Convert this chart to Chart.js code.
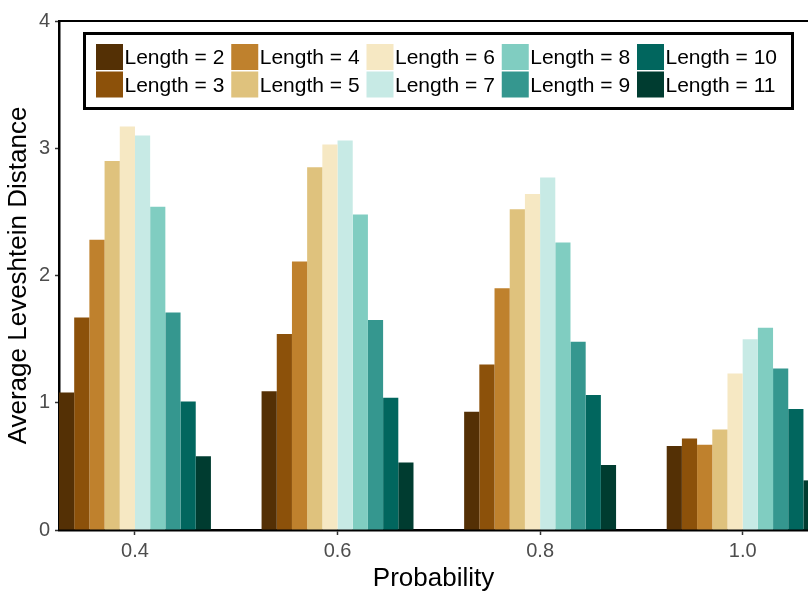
<!DOCTYPE html>
<html>
<head>
<meta charset="utf-8">
<script src="https://cdn.jsdelivr.net/npm/chart.js@4/dist/chart.umd.min.js"></script>
<style>
  html, body { margin: 0; padding: 0; background: #fff; overflow: hidden; }
  #wrap { width: 808px; height: 594px; }
</style>
</head>
<body>
<div id="wrap"><canvas id="chart" width="808" height="594"></canvas></div>
<script>
// mutation probability on the x axis, one series per sequence length
const probabilities = [0.4, 0.6, 0.8, 1.0];
const yTicks = [0, 1, 2, 3, 4];

const len2 = [1.08, 1.09, 0.93, 0.66];
const len3 = [1.67, 1.54, 1.30, 0.72];
const len4 = [2.28, 2.11, 1.90, 0.67];
const len5 = [2.90, 2.85, 2.52, 0.79];
const len6 = [3.17, 3.03, 2.64, 1.23];
const len7 = [3.10, 3.06, 2.77, 1.50];
const len8 = [2.54, 2.48, 2.26, 1.59];
const len9 = [1.71, 1.65, 1.48, 1.27];
const len10 = [1.01, 1.04, 1.06, 0.95];
const len11 = [0.58, 0.53, 0.51, 0.39];

const seriesLabels = [
  'Length = 2', 'Length = 3', 'Length = 4', 'Length = 5', 'Length = 6',
  'Length = 7', 'Length = 8', 'Length = 9', 'Length = 10', 'Length = 11',
];
const seriesValues = [len2, len3, len4, len5, len6, len7, len8, len9, len10, len11];

// BrBG diverging palette, 10 classes
const palette = [
  '#543005', '#8c510a', '#bf812d', '#dfc27d', '#f6e8c3',
  '#c7eae5', '#80cdc1', '#35978f', '#01665e', '#003c30',
];

const FONT = "'Liberation Sans', Arial, Helvetica, sans-serif";

// boxed two-row legend sitting inside the plot panel
const boxLegend = {
  id: 'boxLegend',
  afterDraw(chart) {
    const ctx = chart.ctx;
    const box = { x: 84.5, y: 33.5, w: 708, h: 75 };
    const colStart = 96;
    const colStep = 135.25;
    const rowTops = [44, 71.5];
    const key = 27;

    ctx.save();
    ctx.fillStyle = '#fff';
    ctx.fillRect(box.x, box.y, box.w, box.h);
    ctx.lineWidth = 3;
    ctx.strokeStyle = '#000';
    ctx.strokeRect(box.x, box.y, box.w, box.h);

    ctx.font = `21px ${FONT}`;
    ctx.textBaseline = 'middle';
    ctx.textAlign = 'left';
    chart.data.datasets.forEach((ds, i) => {
      const col = Math.floor(i / 2);
      const row = i % 2;
      const x = colStart + col * colStep;
      const y = rowTops[row];
      ctx.fillStyle = ds.backgroundColor;
      ctx.fillRect(x, y, key, key - 1);
      ctx.fillStyle = '#000';
      ctx.fillText(ds.label, x + key + 1.5, y + key / 2 + 1);
    });
    ctx.restore();
  },
};

// top edge of the panel
const panelTop = {
  id: 'panelTop',
  afterDraw(chart) {
    const { ctx, chartArea } = chart;
    ctx.save();
    ctx.strokeStyle = '#000';
    ctx.lineWidth = 2;
    ctx.beginPath();
    ctx.moveTo(chartArea.left - 1, chartArea.top);
    ctx.lineTo(chart.width, chartArea.top);
    ctx.stroke();
    ctx.restore();
  },
};

const datasets = seriesValues.map((vals, i) => ({
  label: seriesLabels[i],
  data: vals.map((v, j) => ({ x: probabilities[j], y: v })),
  backgroundColor: palette[i],
  borderWidth: 0,
  barPercentage: 1.0,
  categoryPercentage: 0.75,
}));

new Chart(document.getElementById('chart').getContext('2d'), {
  type: 'bar',
  data: { datasets },
  options: {
    responsive: false,
    animation: false,
    layout: { padding: { top: 21, right: 0, left: 0, bottom: 0 } },
    plugins: {
      legend: { display: false },
      tooltip: { enabled: false },
    },
    scales: {
      x: {
        type: 'linear',
        min: 0.325,
        max: 1.0645,
        offset: false,
        afterFit: (scale) => { scale.height = 64; },
        afterBuildTicks: (scale) => {
          scale.ticks = probabilities.map(v => ({ value: v }));
        },
        ticks: {
          autoSkip: false,
          maxRotation: 0,
          padding: 4,
          color: '#4d4d4d',
          font: { family: FONT, size: 20 },
          callback: (v) => Number(v).toFixed(1),
        },
        grid: {
          offset: false,
          drawOnChartArea: false,
          drawTicks: true,
          tickLength: 5,
          tickColor: '#333',
          tickWidth: 1.5,
        },
        border: { color: '#000', width: 2.5 },
        title: {
          display: true,
          text: 'Probability',
          color: '#000',
          font: { family: FONT, size: 26 },
          padding: { top: 0, bottom: 0 },
        },
      },
      y: {
        min: 0,
        max: 4,
        afterFit: (scale) => { scale.width = 59; },
        afterBuildTicks: (scale) => {
          scale.ticks = yTicks.map(v => ({ value: v }));
        },
        ticks: {
          padding: 5,
          color: '#4d4d4d',
          font: { family: FONT, size: 20 },
        },
        grid: {
          drawOnChartArea: false,
          drawTicks: true,
          tickLength: 4,
          tickColor: '#333',
          tickWidth: 1.5,
        },
        border: { color: '#000', width: 2.5 },
        title: {
          display: true,
          text: 'Average Leveshtein Distance',
          color: '#000',
          font: { family: FONT, size: 26 },
          padding: { top: 3, bottom: 0 },
        },
      },
    },
  },
  plugins: [panelTop, boxLegend],
});
</script>
</body>
</html>
